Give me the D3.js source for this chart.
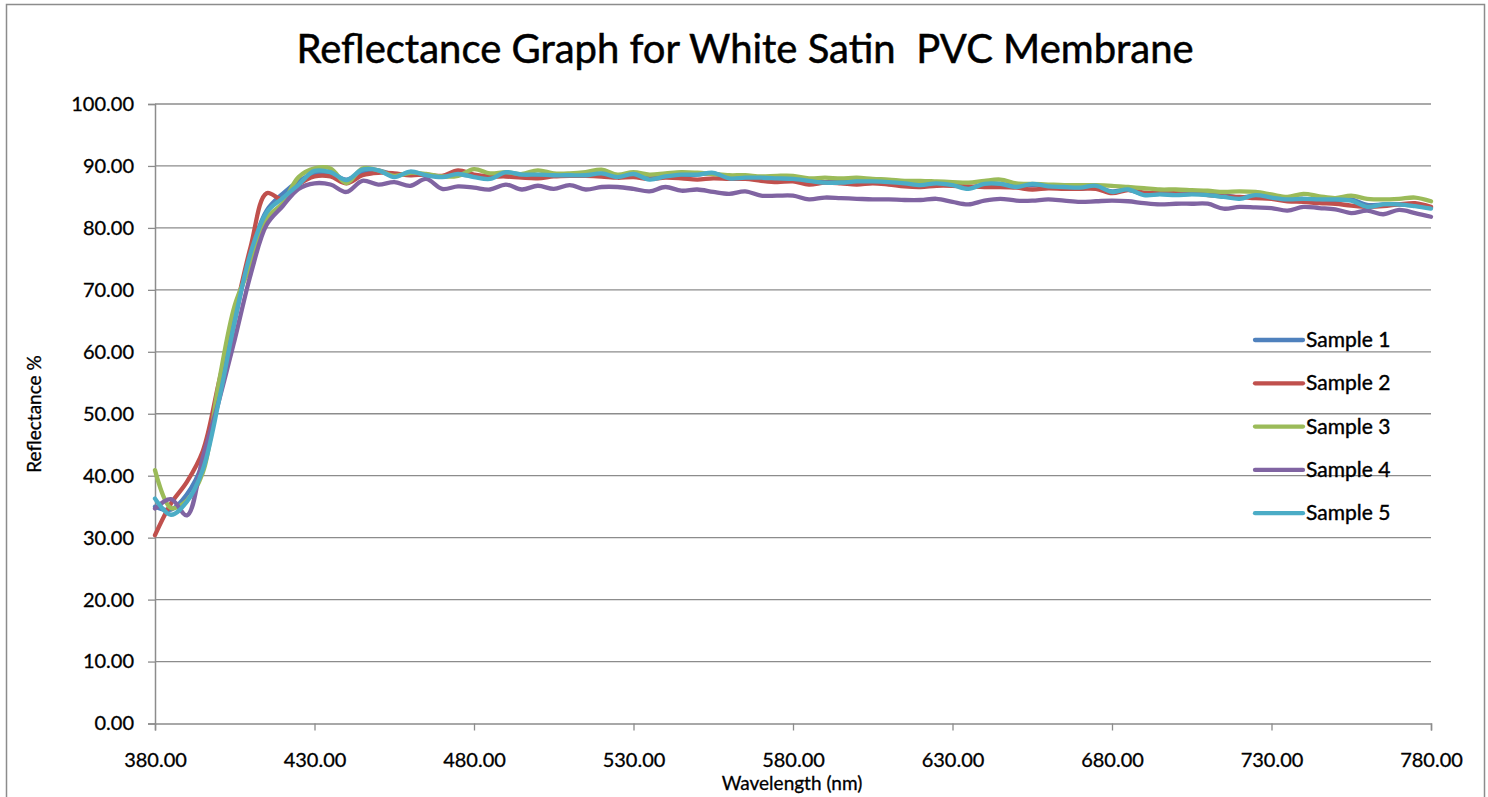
<!DOCTYPE html>
<html>
<head>
<meta charset="utf-8">
<script src="https://cdn.jsdelivr.net/npm/d3@7"></script>
<style>
  body { margin: 0; background: #fff; }
  text { font-family: Lato, "Open Sans", sans-serif; fill: #000; }
</style>
</head>
<body>
<div id="chart"></div>
<script>
// wavelengths, every 5 nm from 380 to 780
const wavelengths = [380,385,390,395,400,405,410,415,420,425,430,435,440,445,450,455,460,465,470,475,
  480,485,490,495,500,505,510,515,520,525,530,535,540,545,550,555,560,565,570,575,
  580,585,590,595,600,605,610,615,620,625,630,635,640,645,650,655,660,665,670,675,
  680,685,690,695,700,705,710,715,720,725,730,735,740,745,750,755,760,765,770,775,780];

const sample1 = [35.0,34.5,37.0,42.0,53.0,65.0,76.0,82.8,85.5,87.5,88.8,88.8,87.8,89.0,89.3,88.6,88.8,88.5,88.3,88.6,
  88.4,88.3,88.8,88.6,88.5,88.4,88.5,88.5,88.7,88.3,88.6,88.0,88.3,88.5,88.6,88.8,88.1,88.1,88.0,88.0,
  87.9,87.6,87.4,87.4,87.5,87.5,87.4,87.2,87.0,87.2,87.0,86.5,87.0,87.1,86.7,86.9,86.7,86.5,86.3,86.6,
  85.9,86.2,85.4,85.5,85.4,85.5,85.6,85.3,84.9,85.2,85.0,84.7,84.7,84.6,84.5,84.6,83.7,83.8,83.8,83.6,83.3];

const sample2 = [30.4,35.5,39.0,44.0,55.0,66.0,77.0,85.6,84.6,87.0,88.3,88.3,87.2,88.5,88.9,88.8,88.5,88.6,88.4,89.3,
  88.6,88.3,88.3,88.1,88.0,88.3,88.4,88.4,88.3,88.1,88.2,87.9,88.1,88.0,87.8,88.0,87.9,87.9,87.6,87.4,
  87.5,87.0,87.3,87.2,87.0,87.2,87.0,86.7,86.6,86.8,86.8,86.7,86.6,86.6,86.5,86.2,86.4,86.3,86.3,86.3,
  85.6,86.1,85.7,85.6,85.6,85.6,85.3,85.1,85.0,84.8,84.7,84.3,84.2,84.0,83.9,83.6,83.4,83.5,83.8,84.0,83.4];

const sample3 = [40.9,34.8,36.0,40.5,55.0,67.5,74.0,81.5,84.0,88.2,89.6,89.6,87.2,89.6,89.3,88.4,88.9,88.7,88.3,88.4,
  89.5,88.8,89.0,88.7,89.3,88.8,88.8,89.0,89.4,88.6,89.0,88.6,88.8,89.0,88.9,88.7,88.5,88.5,88.3,88.4,
  88.4,88.0,88.1,88.0,88.1,87.9,87.8,87.6,87.6,87.5,87.4,87.3,87.6,87.8,87.2,87.1,87.0,86.9,86.9,86.9,
  86.8,86.6,86.4,86.2,86.2,86.1,86.0,85.8,85.9,85.8,85.4,85.0,85.5,85.1,84.8,85.2,84.7,84.6,84.7,84.9,84.3];

const sample4 = [34.7,36.2,33.6,43.0,52.0,62.0,72.5,80.5,83.5,86.3,87.2,87.0,85.8,87.6,87.0,87.4,86.8,87.9,86.3,86.7,
  86.5,86.2,87.0,86.2,86.8,86.3,86.9,86.2,86.6,86.6,86.3,85.9,86.6,86.0,86.2,85.8,85.5,85.9,85.2,85.2,
  85.2,84.6,84.9,84.8,84.7,84.6,84.6,84.5,84.5,84.7,84.2,83.8,84.4,84.7,84.4,84.4,84.6,84.4,84.2,84.3,
  84.4,84.3,84.0,83.8,83.9,83.9,83.9,83.1,83.4,83.3,83.2,82.8,83.4,83.2,83.0,82.4,82.8,82.2,82.9,82.4,81.8];

const sample5 = [36.3,33.7,35.8,41.0,52.0,65.0,76.0,82.5,84.8,87.0,89.2,89.0,87.7,89.4,89.3,88.2,89.1,88.5,88.2,88.7,
  88.2,87.9,89.0,88.6,88.6,88.5,88.5,88.5,88.8,88.2,88.7,87.8,88.3,88.6,88.6,88.9,88.0,88.1,88.1,88.0,
  87.9,87.6,87.3,87.3,87.5,87.5,87.4,87.2,86.9,87.2,86.9,86.3,87.1,87.1,86.6,87.1,86.7,86.6,86.5,86.8,
  85.8,86.2,85.3,85.4,85.3,85.4,85.3,85.0,84.7,85.3,84.9,84.6,84.7,84.6,84.6,84.4,83.4,83.8,83.8,83.5,83.1];

const seriesNames = ["Sample 1", "Sample 2", "Sample 3", "Sample 4", "Sample 5"];
const seriesColors = ["#4F81BD", "#C0504D", "#9BBB59", "#8064A2", "#4BACC6"];
const xTicks = [380, 430, 480, 530, 580, 630, 680, 730, 780];
const yTicks = [0, 10, 20, 30, 40, 50, 60, 70, 80, 90, 100];

const allSeries = [sample1, sample2, sample3, sample4, sample5];

const W = 1488, H = 797;
const plot = {left: 155, right: 1431, top: 104, bottom: 723.5};

const svg = d3.select("#chart").append("svg")
    .attr("width", W)
    .attr("height", H);

// outer chart border
svg.append("rect")
    .attr("x", 6.5).attr("y", 4.5)
    .attr("width", 1478).attr("height", 820)
    .attr("fill", "none")
    .attr("stroke", "#8c8c8c")
    .attr("stroke-width", 1.5);

const x = d3.scaleLinear().domain([380, 780]).range([plot.left, plot.right]);
const y = d3.scaleLinear().domain([0, 100]).range([plot.bottom, plot.top]);

// gridlines
svg.append("g")
    .selectAll("line")
    .data(yTicks.slice(1))
    .join("line")
    .attr("x1", plot.left).attr("x2", plot.right)
    .attr("y1", d => y(d)).attr("y2", d => y(d))
    .attr("stroke", "#8c8c8c")
    .attr("stroke-width", 1.3);

// y axis
const yAxis = d3.axisLeft(y).tickValues(yTicks).tickFormat(d3.format(".2f")).tickSize(7).tickPadding(14);
const yg = svg.append("g")
    .attr("transform", `translate(${plot.left},0)`)
    .call(yAxis);

// x axis
const xAxis = d3.axisBottom(x).tickValues(xTicks).tickFormat(d3.format(".2f")).tickSize(7).tickPadding(22);
const xg = svg.append("g")
    .attr("transform", `translate(0,${plot.bottom})`)
    .call(xAxis);

[yg, xg].forEach(g => {
    g.select(".domain").attr("stroke", "#8c8c8c").attr("stroke-width", 1.5);
    g.selectAll(".tick line").attr("stroke", "#8c8c8c").attr("stroke-width", 1.3);
    g.selectAll(".tick text")
        .attr("fill", "#000")
        .attr("stroke", "#000")
        .attr("stroke-width", 0.3)
        .style("font-family", "Lato, sans-serif")
        .style("font-size", "20px");
});

// series lines
const line = d3.line()
    .x((d, i) => x(wavelengths[i]))
    .y(d => y(d))
    .curve(d3.curveCatmullRom.alpha(0.5));

svg.append("g")
    .selectAll("path")
    .data(allSeries)
    .join("path")
    .attr("d", d => line(d))
    .attr("fill", "none")
    .attr("stroke", (d, i) => seriesColors[i])
    .attr("stroke-width", 4.3)
    .attr("stroke-linejoin", "round")
    .attr("stroke-linecap", "round");

// title
svg.append("text")
    .attr("x", 745)
    .attr("y", 63)
    .attr("text-anchor", "middle")
    .attr("stroke", "#000")
    .attr("stroke-width", 0.5)
    .style("font-size", "40px")
    .style("white-space", "pre")
    .text("Reflectance Graph for White Satin  PVC Membrane");

// axis titles
svg.append("text")
    .attr("x", 792)
    .attr("y", 790)
    .attr("text-anchor", "middle")
    .attr("stroke", "#000")
    .attr("stroke-width", 0.3)
    .style("font-size", "19px")
    .text("Wavelength (nm)");

svg.append("text")
    .attr("transform", "translate(41,414) rotate(-90)")
    .attr("text-anchor", "middle")
    .attr("stroke", "#000")
    .attr("stroke-width", 0.3)
    .style("font-size", "19px")
    .text("Reflectance %");

// legend
const legend = svg.append("g")
    .selectAll("g")
    .data(seriesNames)
    .join("g")
    .attr("transform", (d, i) => `translate(1255,${340 + i * 43.3})`);

legend.append("line")
    .attr("x1", 0).attr("x2", 48)
    .attr("stroke", (d, i) => seriesColors[i])
    .attr("stroke-width", 4.3)
    .attr("stroke-linecap", "round");

legend.append("text")
    .attr("x", 51)
    .attr("y", 7)
    .attr("stroke", "#000")
    .attr("stroke-width", 0.4)
    .style("font-size", "21px")
    .text(d => d);
</script>
</body>
</html>
